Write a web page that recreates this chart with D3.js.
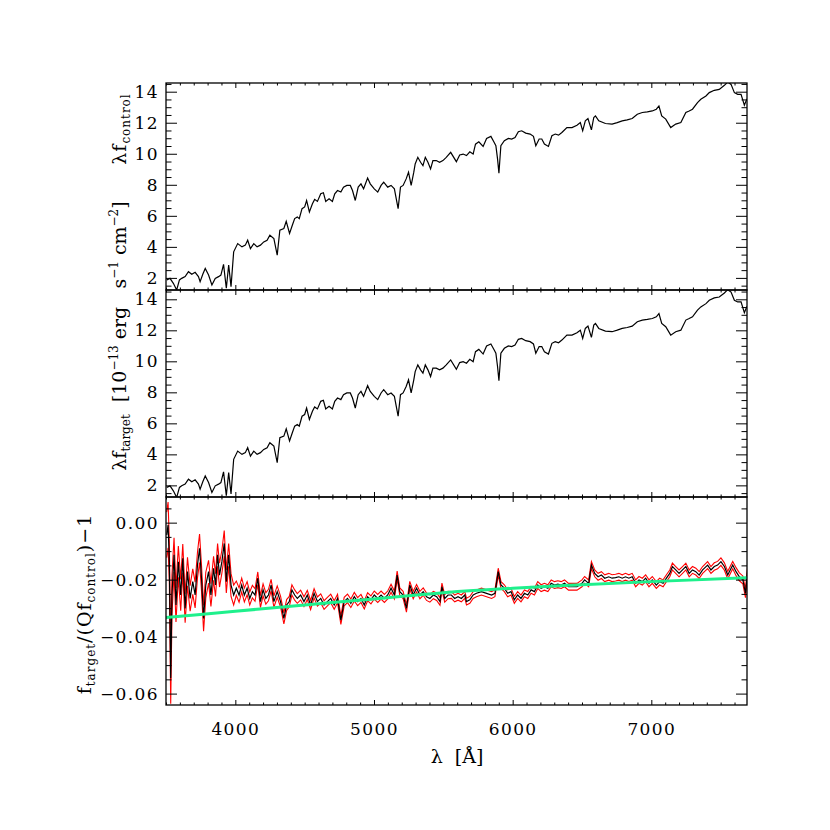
<!DOCTYPE html>
<html>
<head>
<meta charset="utf-8">
<script src="https://cdn.jsdelivr.net/npm/d3@7"></script>
<style>
  body { margin: 0; background: #fff; }
  text { font-family: "DejaVu Serif", serif; fill: #000; }
</style>
</head>
<body>
<div id="chart"></div>
<script>

// spectrum (same for control and target at this scale), 1e-13 erg s-1 cm-2
var specLam = [
  3505,3529,3553,3577,3597,3613,3638,3662,3686,3710,
  3734,3746,3766,3783,3807,3831,3855,3879,3896,3915,
  3935,3952,3969,3988,4017,4048,4072,4089,4109,4133,
  4157,4181,4205,4229,4249,4278,4302,4321,4350,4367,
  4391,4411,4428,4447,4461,4481,4500,4514,4534,4556,
  4572,4592,4616,4635,4652,4676,4700,4717,4737,4761,
  4780,4804,4829,4845,4865,4886,4906,4925,4954,4973,
  5002,5027,5051,5070,5099,5123,5147,5174,5191,5210,
  5232,5249,5268,5287,5297,5316,5336,5353,5370,5389,
  5408,5425,5449,5473,5497,5521,5553,5594,5618,5643,
  5667,5691,5715,5732,5756,5787,5812,5843,5867,5879,
  5891,5901,5915,5940,5969,5993,6017,6041,6065,6094,
  6126,6150,6167,6191,6210,6229,6258,6283,6307,6331,
  6355,6391,6428,6464,6488,6505,6524,6543,6568,6585,
  6597,6621,6669,6717,6754,6790,6826,6862,6899,6935,
  6971,7007,7036,7055,7075,7104,7140,7176,7213,7249,
  7273,7297,7333,7357,7394,7418,7454,7490,7527,7551,
  7575,7599,7623,7647,7671,7688,7708
];
var fluxControl = [
  1.87,1.97,1.65,1.22,1.87,1.97,2.08,2.40,2.23,2.36,
  2.08,1.76,2.25,2.61,2.18,1.54,1.97,2.08,2.18,2.87,
  1.33,2.83,1.44,3.68,4.21,4.00,4.11,4.43,3.89,4.21,
  4.00,4.11,4.32,4.43,4.75,4.53,3.47,5.07,5.18,5.65,
  4.86,5.39,5.82,5.93,5.82,6.46,6.57,6.99,6.25,6.78,
  7.06,6.93,7.42,7.49,6.93,7.10,6.93,7.42,7.63,7.53,
  7.85,7.96,7.96,7.63,6.99,7.85,8.06,7.74,8.43,8.06,
  7.74,7.53,7.96,8.17,7.85,7.96,7.74,6.46,7.85,7.96,
  8.38,8.81,7.96,8.81,9.34,9.77,9.45,9.24,9.77,9.45,
  9.02,9.56,9.56,9.45,9.56,9.77,10.09,9.49,9.92,9.98,
  9.88,10.13,9.98,10.62,10.77,10.47,10.99,11.12,10.73,10.52,
  9.67,8.75,10.52,10.84,10.99,10.95,11.05,11.42,11.48,11.33,
  11.27,11.12,10.52,10.95,10.95,10.62,10.47,11.16,11.27,11.20,
  11.37,11.69,11.69,11.84,12.01,11.48,12.12,12.27,11.54,12.34,
  12.44,12.12,11.95,11.91,12.01,12.12,12.18,12.27,12.55,12.66,
  12.70,12.76,12.87,13.08,12.44,12.23,11.69,11.91,12.01,12.66,
  12.76,12.87,13.30,13.51,13.72,13.94,14.09,14.15,14.41,14.62,
  14.47,13.94,13.83,13.83,13.13,13.51,13.51
];
var fluxTarget = fluxControl;

// residual f_target/(Q f_control) - 1 and its error
var ratioLam = [
  3505,3515,3524,3534,3543,3558,3572,3589,3606,3621,
  3638,3655,3674,3693,3710,3727,3742,3756,3771,3787,
  3807,3824,3843,3857,3872,3886,3903,3920,3935,3952,
  3969,3988,4007,4027,4046,4065,4085,4104,4123,4142,
  4162,4181,4200,4220,4239,4258,4278,4302,4326,4350,
  4370,4389,4408,4428,4447,4471,4495,4519,4543,4568,
  4592,4616,4640,4664,4688,4713,4737,4761,4785,4809,
  4833,4858,4882,4906,4930,4954,4978,5002,5027,5051,
  5075,5099,5123,5147,5167,5186,5210,5234,5258,5283,
  5307,5331,5355,5379,5403,5428,5452,5476,5490,5510,
  5534,5558,5582,5606,5630,5655,5667,5691,5715,5739,
  5775,5812,5848,5872,5896,5916,5940,5964,5988,6012,
  6036,6060,6085,6109,6133,6157,6181,6205,6229,6254,
  6278,6302,6326,6350,6374,6403,6432,6464,6500,6519,
  6548,6568,6592,6616,6640,6664,6693,6717,6742,6766,
  6790,6814,6838,6862,6887,6911,6935,6959,6983,7007,
  7036,7060,7085,7109,7133,7152,7176,7200,7225,7249,
  7273,7297,7321,7345,7370,7406,7430,7454,7478,7502,
  7527,7551,7587,7611,7635,7660,7679,7696,7708
];
var ratioVal = [
  -0.0043,-0.0008,-0.0137,-0.0546,-0.0254,-0.0113,-0.0289,-0.0137,-0.0254,-0.0125,
  -0.0301,-0.0172,-0.0266,-0.0207,-0.0254,-0.0149,-0.0090,-0.0195,-0.0336,-0.0219,
  -0.0172,-0.0254,-0.0160,-0.0219,-0.0113,-0.0184,-0.0137,-0.0073,-0.0207,-0.0113,
  -0.0219,-0.0254,-0.0230,-0.0254,-0.0219,-0.0254,-0.0230,-0.0266,-0.0242,-0.0254,
  -0.0195,-0.0277,-0.0236,-0.0266,-0.0254,-0.0219,-0.0277,-0.0242,-0.0277,-0.0336,
  -0.0289,-0.0277,-0.0236,-0.0254,-0.0266,-0.0254,-0.0277,-0.0254,-0.0289,-0.0248,
  -0.0277,-0.0266,-0.0289,-0.0277,-0.0266,-0.0289,-0.0266,-0.0342,-0.0277,-0.0266,
  -0.0283,-0.0260,-0.0277,-0.0266,-0.0289,-0.0260,-0.0271,-0.0254,-0.0266,-0.0254,
  -0.0266,-0.0254,-0.0230,-0.0254,-0.0184,-0.0242,-0.0254,-0.0301,-0.0219,-0.0254,
  -0.0230,-0.0254,-0.0242,-0.0260,-0.0266,-0.0254,-0.0260,-0.0277,-0.0225,-0.0266,
  -0.0254,-0.0254,-0.0266,-0.0260,-0.0266,-0.0254,-0.0277,-0.0271,-0.0254,-0.0248,
  -0.0242,-0.0248,-0.0254,-0.0248,-0.0172,-0.0219,-0.0230,-0.0248,-0.0242,-0.0271,
  -0.0254,-0.0266,-0.0248,-0.0254,-0.0236,-0.0242,-0.0219,-0.0230,-0.0225,-0.0230,
  -0.0213,-0.0219,-0.0216,-0.0219,-0.0213,-0.0225,-0.0225,-0.0225,-0.0213,-0.0201,
  -0.0213,-0.0149,-0.0178,-0.0190,-0.0184,-0.0195,-0.0190,-0.0195,-0.0193,-0.0190,
  -0.0195,-0.0190,-0.0195,-0.0190,-0.0213,-0.0201,-0.0207,-0.0195,-0.0213,-0.0201,
  -0.0219,-0.0207,-0.0213,-0.0195,-0.0178,-0.0154,-0.0166,-0.0178,-0.0166,-0.0154,
  -0.0178,-0.0166,-0.0172,-0.0184,-0.0166,-0.0149,-0.0166,-0.0154,-0.0149,-0.0137,
  -0.0154,-0.0184,-0.0149,-0.0172,-0.0190,-0.0201,-0.0248,-0.0160,-0.0154
];
var ratioErr = [
  0.0080,0.0080,0.0070,0.0090,0.0070,0.0060,0.0060,0.0055,0.0055,0.0050,
  0.0050,0.0050,0.0045,0.0045,0.0045,0.0045,0.0050,0.0045,0.0045,0.0045,
  0.0040,0.0040,0.0042,0.0040,0.0040,0.0042,0.0040,0.0045,0.0040,0.0040,
  0.0040,0.0035,0.0025,0.0025,0.0024,0.0024,0.0023,0.0023,0.0022,0.0022,
  0.0022,0.0021,0.0021,0.0020,0.0020,0.0020,0.0020,0.0020,0.0019,0.0019,
  0.0019,0.0018,0.0018,0.0018,0.0017,0.0017,0.0017,0.0016,0.0016,0.0016,
  0.0016,0.0016,0.0015,0.0015,0.0015,0.0015,0.0015,0.0015,0.0015,0.0015,
  0.0015,0.0015,0.0014,0.0014,0.0014,0.0014,0.0014,0.0014,0.0014,0.0014,
  0.0014,0.0014,0.0014,0.0014,0.0014,0.0013,0.0013,0.0013,0.0013,0.0013,
  0.0013,0.0013,0.0013,0.0013,0.0013,0.0013,0.0013,0.0013,0.0013,0.0013,
  0.0013,0.0012,0.0012,0.0012,0.0012,0.0012,0.0012,0.0012,0.0012,0.0012,
  0.0012,0.0012,0.0012,0.0012,0.0012,0.0012,0.0012,0.0012,0.0012,0.0012,
  0.0012,0.0012,0.0012,0.0012,0.0012,0.0012,0.0012,0.0012,0.0012,0.0012,
  0.0012,0.0012,0.0012,0.0012,0.0012,0.0012,0.0012,0.0012,0.0012,0.0012,
  0.0012,0.0012,0.0012,0.0012,0.0012,0.0012,0.0012,0.0012,0.0012,0.0012,
  0.0012,0.0012,0.0012,0.0012,0.0012,0.0012,0.0012,0.0012,0.0012,0.0012,
  0.0012,0.0012,0.0012,0.0012,0.0012,0.0012,0.0012,0.0012,0.0012,0.0012,
  0.0012,0.0012,0.0012,0.0012,0.0012,0.0012,0.0012,0.0013,0.0013,0.0013,
  0.0013,0.0013,0.0013,0.0014,0.0014,0.0014,0.0015,0.0015,0.0015
];

// smooth fit (green)
var fitLam = [3500, 4000, 4500, 5000, 5500, 6000, 6500, 7000, 7700];
var fitVal = [-0.0333, -0.0311, -0.0289, -0.0268, -0.0246, -0.0230, -0.0218, -0.0207, -0.0193];

var xMajor = [4000, 5000, 6000, 7000];
var fluxMajor = [2, 4, 6, 8, 10, 12, 14];
var ratioMajor = [0.00, -0.02, -0.04, -0.06];


var svg_dx = 830, svg_dy = 830,
    left = 166, right = 747;

var panels = [
  {top: 83,  bottom: 290, domain: [1.22, 14.56], lam: specLam, val: fluxControl},
  {top: 290, bottom: 497, domain: [1.25, 14.60], lam: specLam, val: fluxTarget},
  {top: 497, bottom: 705, domain: [-0.064, 0.009]}
];

var svg = d3.select("#chart")
            .append("svg")
            .attr("width", svg_dx)
            .attr("height", svg_dy);

svg.append("rect").attr("width", svg_dx).attr("height", svg_dy).attr("fill", "#fff");

var x = d3.scaleLinear().domain([3500, 7690]).range([left, right]);

var xMinor = d3.range(3500, 7700, 100).filter(v => v % 1000 != 0);

function drawAxes(g, y, major, minor, fmt, showXLabels) {
    var top = y.range()[1], bottom = y.range()[0];

    // x ticks, bottom and top, pointing inward
    g.append("g").attr("transform", "translate(0," + bottom + ")")
     .call(d3.axisBottom(x).tickValues(xMinor).tickSize(-2.5).tickFormat(""));
    g.append("g").attr("transform", "translate(0," + top + ")")
     .call(d3.axisTop(x).tickValues(xMinor).tickSize(-2.5).tickFormat(""));
    g.append("g").attr("transform", "translate(0," + top + ")")
     .call(d3.axisTop(x).tickValues(xMajor).tickSize(-5).tickFormat(""));
    g.append("g").attr("transform", "translate(0," + bottom + ")")
     .call(d3.axisBottom(x).tickValues(xMajor).tickSize(-5).tickPadding(18)
           .tickFormat(showXLabels ? d3.format("d") : ""));

    // y ticks, left and right
    g.append("g").attr("transform", "translate(" + left + ",0)")
     .call(d3.axisLeft(y).tickValues(minor).tickSize(-5.5).tickFormat(""));
    g.append("g").attr("transform", "translate(" + right + ",0)")
     .call(d3.axisRight(y).tickValues(minor).tickSize(-5.5).tickFormat(""));
    g.append("g").attr("transform", "translate(" + right + ",0)")
     .call(d3.axisRight(y).tickValues(major).tickSize(-11).tickFormat(""));
    g.append("g").attr("transform", "translate(" + left + ",0)")
     .call(d3.axisLeft(y).tickValues(major).tickSize(-11).tickPadding(7).tickFormat(fmt));

    g.selectAll(".domain").remove();
    g.selectAll(".tick line").attr("stroke", "#000").attr("stroke-width", 1);
    g.selectAll(".tick text")
     .attr("font-family", "DejaVu Serif").attr("font-size", "17px")
     .attr("letter-spacing", "1.4px").attr("fill", "#000");

    g.append("rect")
     .attr("x", left).attr("y", top)
     .attr("width", right - left).attr("height", bottom - top)
     .attr("fill", "none").attr("stroke", "#000").attr("stroke-width", 1.3);
}

panels.forEach(function(p, i) {
    var y = d3.scaleLinear().domain(p.domain).range([p.bottom, p.top]);

    var g = svg.append("g");

    g.append("clipPath").attr("id", "clip" + i)
     .append("rect")
     .attr("x", left).attr("y", p.top)
     .attr("width", right - left).attr("height", p.bottom - p.top);

    var plot = g.append("g").attr("clip-path", "url(#clip" + i + ")");

    if (i < 2) {
        var line = d3.line()
            .x((d, k) => x(p.lam[k]))
            .y(d => y(d));
        plot.append("path")
            .datum(p.val)
            .attr("d", line)
            .attr("fill", "none")
            .attr("stroke", "#000")
            .attr("stroke-width", 1.2);

        var minor = d3.range(1.5, 14.6, 0.5).filter(v => v % 2 != 0);
        drawAxes(g, y, fluxMajor, minor, d3.format("d"), false);
    } else {
        var rline = d3.line().x((d, k) => x(ratioLam[k])).y(d => y(d));
        var upper = ratioVal.map((v, k) => v + ratioErr[k]),
            lower = ratioVal.map((v, k) => v - ratioErr[k]);

        [upper, lower].forEach(function(s) {
            plot.append("path")
                .datum(s)
                .attr("d", rline)
                .attr("fill", "none")
                .attr("stroke", "#ff0000")
                .attr("stroke-width", 1.1);
        });
        plot.append("path")
            .datum(ratioVal)
            .attr("d", rline)
            .attr("fill", "none")
            .attr("stroke", "#000")
            .attr("stroke-width", 1.2);

        plot.append("path")
            .datum(fitVal)
            .attr("d", d3.line().x((d, k) => x(fitLam[k])).y(d => y(d)).curve(d3.curveMonotoneX))
            .attr("fill", "none")
            .attr("stroke", "#1ef08c")
            .attr("stroke-width", 3);

        var rminor = d3.range(-0.060, 0.009, 0.005)
                       .map(v => Math.round(v * 1000) / 1000)
                       .filter(v => Math.round(v * 1000) % 20 != 0);
        drawAxes(g, y, ratioMajor, rminor, d3.format(".2f"), true);
    }
});

// axis titles, rotated
function ytitle(cx, cy, spacing, parts) {
    var t = svg.append("text")
        .attr("transform", "translate(" + cx + "," + cy + ") rotate(-90)")
        .attr("text-anchor", "middle")
        .attr("font-size", "19px")
        .attr("letter-spacing", spacing);
    parts.forEach(function(p) {
        var ts = t.append("tspan").text(p[0]);
        if (p[1] == "sub") ts.attr("font-size", "12px").attr("baseline-shift", "-4");
        if (p[1] == "sup") ts.attr("font-size", "12px").attr("baseline-shift", "8");
    });
}

ytitle(126, 129, "1px", [["λf"], ["control", "sub"]]);
ytitle(126, 336, "0px", [["λf"], ["target", "sub"], ["\u00a0\u00a0[10"], ["−13", "sup"], ["\u00a0erg\u00a0\u00a0\u00a0s"],
                  ["−1", "sup"], ["\u00a0cm"], ["−2", "sup"], ["]"]]);
ytitle(91, 604, "1px", [["f"], ["target", "sub"], ["/(Qf"], ["control", "sub"], [")−1"]]);

svg.append("text")
   .attr("x", 457).attr("y", 763)
   .attr("text-anchor", "middle")
   .attr("font-size", "19px")
   .text("λ\u00a0\u00a0[Å]");

</script>
</body>
</html>
